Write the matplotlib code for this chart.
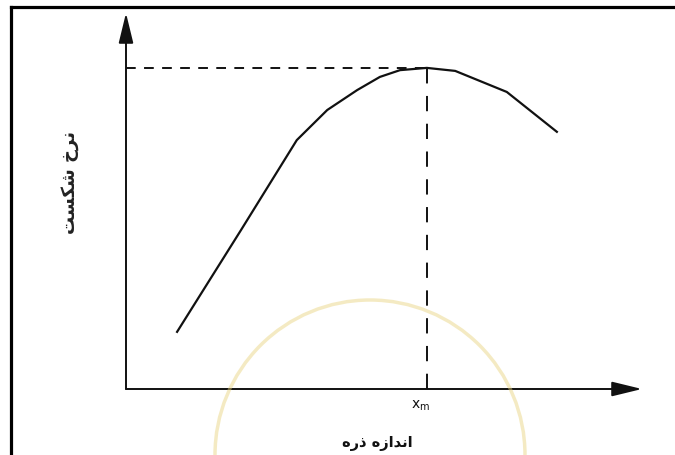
import matplotlib
matplotlib.use("Agg")
import matplotlib.pyplot as plt
from matplotlib.lines import Line2D
from matplotlib.patches import Circle, ArrowStyle

plt.rcParams['lines.scale_dashes'] = False
plt.rcParams['font.family'] = ['DejaVu Sans']

# ---- data (arbitrary schematic units) ----
particle_size = [0.99, 2.23, 3.31, 3.90, 4.48, 4.92, 5.31, 5.83, 6.38, 7.38, 8.35]
breakage_rate = [1.52, 4.23, 6.62, 7.42, 7.95, 8.30, 8.48, 8.54, 8.46, 7.90, 6.84]
x_m = 5.83
rate_max = 8.54
x_max = 10.0
y_max = 10.0

# Persian labels (Arabic presentation forms, visual order)
ylabel_text = "\uFE96\uFEB4\uFB91\uFEB7 \uFEA5\uFEAE\uFEE7"      # نرخ شکست
xlabel_text = "\uFEE9\uFEAD\uFEAB \uFEE9\uFEAF\uFE8D\uFEAA\uFEE7\uFE8D"  # اندازه ذره
xm_label = r"$\mathregular{x_m}$"

W, H = 675, 455
fig = plt.figure(figsize=(W / 100, H / 100), dpi=100)
fig.patch.set_facecolor('white')

ax = fig.add_axes([126 / W, (H - 389) / H, 516 / W, 376 / H])
ax.set_xlim(0, x_max)
ax.set_ylim(0, y_max)
ax.axis('off')

# axes with arrows
arrow = ArrowStyle('-|>', head_length=1.85, head_width=0.45)
for tip in [(x_max, 0), (0, y_max)]:
    ax.annotate('', xy=tip, xytext=(0, 0),
                arrowprops=dict(arrowstyle=arrow, mutation_scale=10, lw=1.4,
                                color='#111111', shrinkA=0, shrinkB=0),
                annotation_clip=False)

# dashed guide lines
ax.plot([0, x_m], [rate_max, rate_max], color='#111111', lw=1.4,
        linestyle=(0, (7, 6)), clip_on=False)
ax.plot([x_m, x_m], [0, rate_max], color='#111111', lw=1.4,
        linestyle=(0, (11, 9)), clip_on=False)

# curve
ax.plot(particle_size, breakage_rate, color='#111111', lw=1.6,
        solid_joinstyle='round', clip_on=False)

# labels
ax.text(x_m - 0.12, -0.25, xm_label, ha='center', va='top', fontsize=10,
        color='#111111')
ax.text(4.88, -1.44, xlabel_text, ha='center', va='center', fontsize=10.5,
        fontweight='bold', color='#111111')
ax.text(-1.09, 5.5, ylabel_text, ha='center', va='center', rotation=90,
        fontsize=13, fontweight='bold', color='#222222')

# watermark ring
ring = Circle((3.70, 0.0), 1.55, transform=fig.dpi_scale_trans, fill=False,
              edgecolor='#e8d27a', lw=2.5, alpha=0.45, zorder=10)
fig.add_artist(ring)

# frame lines
fig.add_artist(Line2D([11 / W, 11 / W], [0, 1 - 7 / H], transform=fig.transFigure,
                      color='black', lw=2.3, solid_capstyle='projecting'))
fig.add_artist(Line2D([11 / W, 1], [1 - 7 / H, 1 - 7 / H], transform=fig.transFigure,
                      color='black', lw=2.3, solid_capstyle='projecting'))

fig.savefig('out.png', dpi=100, facecolor='white')
